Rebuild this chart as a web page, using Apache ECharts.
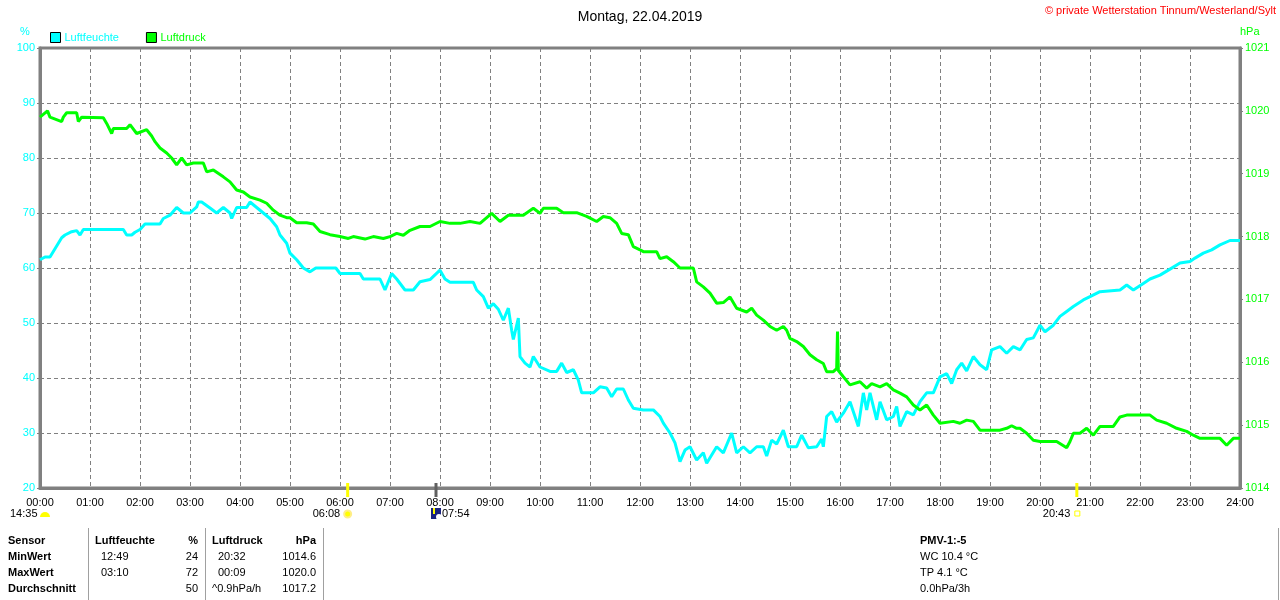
<!DOCTYPE html>
<html>
<head>
<meta charset="utf-8">
<script src="https://cdn.jsdelivr.net/npm/echarts@6/dist/echarts.min.js"></script>
<style>
html,body{margin:0;padding:0;background:#fff;}
#c{width:1280px;height:600px;}
</style>
</head>
<body>
<div id="c"></div>
<script>
// ---- data (minutes since midnight, values) ----
const hourLabels = ['00:00','01:00','02:00','03:00','04:00','05:00','06:00','07:00','08:00','09:00','10:00','11:00','12:00','13:00','14:00','15:00','16:00','17:00','18:00','19:00','20:00','21:00','22:00','23:00','24:00'];

const humTimes = [0,6,12,16,20,26,30,38,44,48,52,60,100,104,110,114,120,126,132,144,148,156,164,172,180,188,190,194,204,212,220,228,230,236,248,252,260,268,276,284,288,296,300,308,316,324,331,355,360,384,388,408,414,422,428,438,448,456,468,480,486,492,520,524,532,538,544,550,556,562,566,568,574,576,582,588,592,600,612,620,626,632,640,646,650,664,672,680,686,692,700,706,712,724,736,744,748,756,762,768,774,780,788,796,800,812,820,830,836,844,852,860,868,872,878,884,892,898,908,914,922,932,938,940,944,950,956,964,972,982,988,992,996,1004,1008,1016,1024,1028,1032,1040,1048,1056,1064,1072,1080,1088,1094,1100,1106,1112,1120,1128,1136,1142,1152,1160,1168,1176,1184,1192,1200,1206,1216,1224,1232,1240,1252,1260,1272,1296,1304,1312,1324,1332,1344,1356,1368,1380,1386,1396,1406,1416,1428,1440];
const humValues = [61.5,62,62,63,64,65.5,66,66.6,66.8,66,67,67,67,66,66,66.5,67,68,68,68,69,69.6,71,70,70,71.1,72,72,70.9,70,71,70,69,71,71,72,71,70,69,67.5,66,64.5,62.7,61.5,60,59.3,60,60,59,59,58,58,56,59,58,56,56,57.5,57.9,59.6,58,57.4,57.4,56,54.8,52.7,53.5,52.5,50.5,52.7,48.7,47,50.9,43.9,42.7,42,43.9,42,41.2,41.2,42.7,41,41.5,39.6,37.3,37.3,38.4,38.2,36.6,38,38,36,34.5,34.2,34.2,33,31.8,30,28.2,24.8,26.9,27.5,25.1,26.4,24.5,27.5,26.4,30,26.4,27.5,26.4,27.5,27.5,25.8,28.7,28,30.5,27.5,27.5,29.6,27.3,27.5,28.9,27.5,33,33.9,32,33.6,35.7,31.2,37.3,34.2,37.3,32.4,35.7,32.4,33,34.8,31.2,33.9,33.3,35.7,37.3,37.3,40.2,40.8,39,41.5,42.7,41.3,43.9,42.4,41.5,45.1,45.7,44.5,45.7,45.1,47,47.3,49.6,48.4,49.6,51.2,52.1,53,54.2,54.8,55.7,56,56.9,56,57.2,58,58.7,59.8,60.9,61.2,61.8,62.7,63.3,64.2,65,65];

const presTimes = [0,9,12,26,28,32,44,46,50,76,80,86,88,104,108,116,128,134,138,144,152,158,164,170,176,184,196,200,208,220,228,236,244,252,264,272,280,288,296,300,308,320,328,336,348,360,370,376,390,400,412,420,428,436,444,456,468,480,492,504,516,528,542,552,562,580,592,600,604,620,628,644,656,668,676,684,692,698,706,712,720,724,740,744,752,760,768,784,788,796,804,812,820,828,836,848,854,860,868,876,884,892,896,900,908,916,924,932,940,944,952,956,957,958,964,972,984,992,998,1008,1016,1024,1032,1040,1048,1056,1064,1072,1080,1096,1104,1112,1120,1128,1152,1160,1166,1172,1176,1184,1192,1200,1220,1232,1236,1240,1248,1256,1264,1272,1288,1296,1304,1332,1340,1352,1364,1376,1384,1392,1416,1424,1432,1440];
const presValues = [1019.9,1020.0,1019.9,1019.83,1019.9,1019.97,1019.97,1019.83,1019.9,1019.89,1019.8,1019.64,1019.72,1019.72,1019.78,1019.64,1019.7,1019.6,1019.51,1019.41,1019.33,1019.25,1019.14,1019.25,1019.14,1019.17,1019.17,1019.03,1019.06,1018.95,1018.87,1018.74,1018.71,1018.63,1018.58,1018.53,1018.42,1018.34,1018.3,1018.3,1018.22,1018.22,1018.2,1018.08,1018.03,1018.0,1017.97,1018.0,1017.96,1018.0,1017.97,1018.0,1018.05,1018.02,1018.1,1018.16,1018.16,1018.24,1018.21,1018.21,1018.24,1018.21,1018.37,1018.24,1018.34,1018.34,1018.45,1018.37,1018.45,1018.45,1018.38,1018.38,1018.32,1018.24,1018.32,1018.3,1018.21,1018.05,1018.03,1017.84,1017.79,1017.76,1017.76,1017.65,1017.68,1017.6,1017.5,1017.5,1017.28,1017.2,1017.1,1016.94,1016.95,1017.04,1016.86,1016.8,1016.86,1016.75,1016.67,1016.57,1016.51,1016.57,1016.51,1016.38,1016.33,1016.25,1016.12,1016.04,1015.98,1015.85,1015.85,1015.9,1016.49,1015.87,1015.77,1015.64,1015.69,1015.59,1015.66,1015.61,1015.66,1015.56,1015.51,1015.45,1015.32,1015.24,1015.32,1015.16,1015.03,1015.06,1015.03,1015.08,1015.06,1014.92,1014.92,1014.95,1014.99,1014.95,1014.95,1014.87,1014.76,1014.74,1014.74,1014.64,1014.74,1014.87,1014.87,1014.95,1014.84,1014.98,1014.98,1015.13,1015.16,1015.16,1015.08,1015.03,1014.95,1014.9,1014.84,1014.79,1014.79,1014.68,1014.79,1014.79];

// astronomical markers (minutes) and labels
const eventTimes = [0, 368, 474, 1243];
const eventLabels = ['14:35','06:08','07:54','20:43'];

// bottom table
const tableHeader = ['Sensor','Luftfeuchte','%','Luftdruck','hPa'];
const tableRows = [
  ['MinWert','12:49','24','20:32','1014.6'],
  ['MaxWert','03:10','72','00:09','1020.0'],
  ['Durchschnitt','','50','^0.9hPa/h','1017.2']
];
const pmvLines = ['PMV-1:-5','WC 10.4 °C','TP 4.1 °C','0.0hPa/3h'];

const CYAN = '#00ffff', GREEN = '#00ff00', GREY = '#808080';
const FONT = 'Liberation Sans, Arial, sans-serif';

const humData = humTimes.map((t,i)=>[t, humValues[i]]);
const presData = presTimes.map((t,i)=>[t, presValues[i]]);

const chart = echarts.init(document.getElementById('c'), null, {renderer:'canvas'});

chart.setOption({
  animation:false,
  backgroundColor:'#fff',
  textStyle:{fontFamily:FONT},
  title:{text:'Montag, 22.04.2019', left:'center', top:5,
    textStyle:{fontSize:14, fontWeight:'normal', color:'#000', fontFamily:FONT}},
  legend:{
    left:45, top:27, itemWidth:10, itemHeight:10, itemGap:27, icon:'rect',
    itemStyle:{borderColor:'#000', borderWidth:1},
    textStyle:{fontSize:11, fontFamily:FONT, padding:[0,0,0,-1]},
    data:[{name:'Luftfeuchte', textStyle:{color:CYAN}},{name:'Luftdruck', textStyle:{color:GREEN}}]
  },
  grid:{left:40, right:40, top:48, bottom:112, show:true, borderColor:GREY, borderWidth:3},
  xAxis:{
    type:'value', min:0, max:1440, interval:60,
    axisLine:{show:true, lineStyle:{color:GREY, width:3}},
    axisTick:{show:false},
    axisLabel:{color:'#000', fontSize:11, margin:9, fontFamily:FONT,
      formatter:v=>hourLabels[Math.round(v/60)]},
    splitLine:{show:true, lineStyle:{color:GREY, type:[4,3], width:1}}
  },
  yAxis:[
    {type:'value', min:20, max:100, interval:10, position:'left',
      axisLine:{show:true, lineStyle:{color:GREY, width:3}},
      axisTick:{show:true, length:3, lineStyle:{color:GREY}},
      axisLabel:{color:CYAN, fontSize:11, margin:5, fontFamily:FONT, formatter:v=>String(v)},
      splitLine:{show:true, lineStyle:{color:GREY, type:[4,3], width:1}}},
    {type:'value', min:1014, max:1021, interval:1, position:'right',
      axisLine:{show:true, lineStyle:{color:GREY, width:3}},
      axisTick:{show:true, length:3, lineStyle:{color:GREY}},
      axisLabel:{color:GREEN, fontSize:11, margin:5, fontFamily:FONT, formatter:v=>String(v)},
      splitLine:{show:false}}
  ],
  series:[
    {name:'Luftfeuchte', type:'line', yAxisIndex:0, data:humData, showSymbol:false,
      lineStyle:{color:CYAN, width:3}, itemStyle:{color:CYAN}, z:3},
    {name:'Luftdruck', type:'line', yAxisIndex:1, data:presData, showSymbol:false,
      lineStyle:{color:GREEN, width:3}, itemStyle:{color:GREEN}, z:4}
  ]
});

// decorations positioned through the chart scales
const px = t => chart.convertToPixel({xAxisIndex:0}, t);
const axisY = chart.convertToPixel({yAxisIndex:0}, 20);
const g = [];
g.push({type:'text', left:20, top:26, style:{text:'%', fill:CYAN, font:'11px '+FONT}});
g.push({type:'text', left:1240, top:26, style:{text:'hPa', fill:GREEN, font:'11px '+FONT}});
g.push({type:'text', right:4, top:5, style:{text:'© private Wetterstation Tinnum/Westerland/Sylt', fill:'#ff0000', font:'11px '+FONT}});

// event markers
const xs = eventTimes.map(px);
const ey = axisY + 26;
[[xs[1]+1,'#ffff00'],[xs[3]+1,'#ffff00'],[xs[2]+1,'#606060']].forEach(([x,c])=>{
  g.push({type:'line', shape:{x1:x,y1:axisY-5,x2:x,y2:axisY+9}, style:{stroke:c, lineWidth:3}, z:10});
});
g.push({type:'text', x:xs[0]-30, y:ey, style:{text:eventLabels[0], fill:'#000', font:'11px '+FONT, textVerticalAlign:'middle'}});
g.push({type:'sector', shape:{cx:xs[0]+5, cy:ey+3, r:5, r0:0, startAngle:Math.PI, endAngle:2*Math.PI}, style:{fill:'#ffff00'}});
g.push({type:'text', x:xs[1]-34, y:ey, style:{text:eventLabels[1], fill:'#000', font:'11px '+FONT, textVerticalAlign:'middle'}});
g.push({type:'circle', shape:{cx:xs[1]+1, cy:ey, r:3.5}, style:{fill:'#ffff00', stroke:'#ffee88', lineWidth:2}});
g.push({type:'rect', shape:{x:xs[2]-4, y:ey-6, width:10, height:11}, style:{fill:'#1a237e'}});
g.push({type:'circle', shape:{cx:xs[2]+4, cy:ey+3, r:3}, style:{fill:'#ffffff'}});
g.push({type:'line', shape:{x1:xs[2]-1,y1:ey-6,x2:xs[2]-1,y2:ey}, style:{stroke:'#ffff00', lineWidth:2}});
g.push({type:'text', x:xs[2]+7, y:ey, style:{text:eventLabels[2], fill:'#000', font:'11px '+FONT, textVerticalAlign:'middle'}});
g.push({type:'text', x:xs[3]-33, y:ey, style:{text:eventLabels[3], fill:'#000', font:'11px '+FONT, textVerticalAlign:'middle'}});
g.push({type:'rect', shape:{x:xs[3]-1, y:ey-3, width:5, height:5}, style:{fill:'none', stroke:'#ffff00', lineWidth:1}});

// table
const rowY = [541,557,573,589];
const bold = 'bold 11px '+FONT, norm = '11px '+FONT;
const addT = (txt,x,y,f,align)=>g.push({type:'text', x:x, y:y, style:{text:txt, fill:'#000', font:f, textAlign:align||'left', textVerticalAlign:'middle'}});
addT(tableHeader[0],8,rowY[0],bold);
addT(tableHeader[1],95,rowY[0],bold);
addT(tableHeader[2],198,rowY[0],bold,'right');
addT(tableHeader[3],212,rowY[0],bold);
addT(tableHeader[4],316,rowY[0],bold,'right');
tableRows.forEach((r,i)=>{
  const y = rowY[i+1];
  addT(r[0],8,y,bold);
  addT(r[1],101,y,norm);
  addT(r[2],198,y,norm,'right');
  addT(r[3], r[3].startsWith('^')?212:218, y, norm);
  addT(r[4],316,y,norm,'right');
});
[88,205,323,1278].forEach(x=>g.push({type:'line', shape:{x1:x+0.5,y1:528,x2:x+0.5,y2:600}, style:{stroke:'#a0a0a0', lineWidth:1}}));
pmvLines.forEach((t,i)=>addT(t,920,rowY[i], i===0?bold:norm));

chart.setOption({graphic:g});
</script>
</body>
</html>
